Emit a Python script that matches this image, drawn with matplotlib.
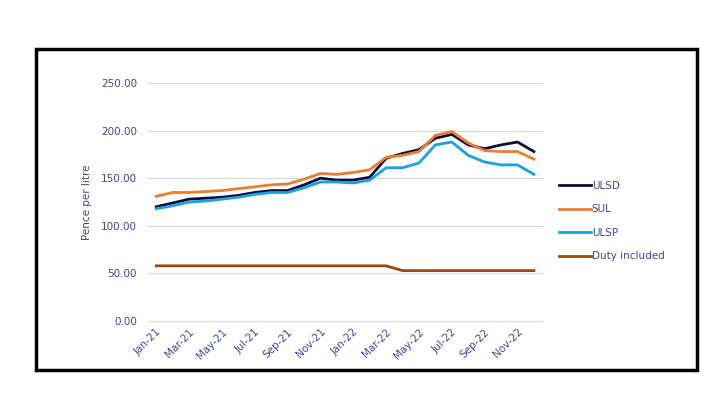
import numpy as np
import matplotlib.pyplot as plt
from matplotlib.patches import Rectangle

months = ["Jan-21", "Feb-21", "Mar-21", "Apr-21", "May-21", "Jun-21",
          "Jul-21", "Aug-21", "Sep-21", "Oct-21", "Nov-21", "Dec-21",
          "Jan-22", "Feb-22", "Mar-22", "Apr-22", "May-22", "Jun-22",
          "Jul-22", "Aug-22", "Sep-22", "Oct-22", "Nov-22", "Dec-22"]

ulsd = [120, 124, 128, 129, 130, 132, 135, 137, 137, 143, 150, 148,
        148, 151, 171, 176, 180, 192, 196, 185, 181, 185, 188, 178]
sul = [131, 135, 135, 136, 137, 139, 141, 143, 144, 149, 155, 154,
       156, 159, 172, 174, 178, 195, 199, 187, 179, 178, 178, 170]
ulsp = [118, 121, 125, 126, 128, 130, 133, 135, 135, 140, 146, 146,
        145, 148, 161, 161, 166, 185, 188, 174, 167, 164, 164, 154]
duty = [57.95] * 15 + [52.95] * 9

text_col = "#44449a"

fig = plt.figure(figsize=(7.05, 3.97), dpi=100)
fig.patches.append(Rectangle((36 / 705, 1 - 370 / 397), 661 / 705, 321 / 397,
                             transform=fig.transFigure, fill=False,
                             edgecolor="black", linewidth=2.5))

ax = fig.add_axes([0.21, 0.1914, 0.559, 0.5995])
x = np.arange(len(months))
ax.plot(x, ulsd, color="#0d0d3a", lw=2, label="ULSD")
ax.plot(x, sul, color="#ed7d31", lw=2, label="SUL")
ax.plot(x, ulsp, color="#1ba1e2", lw=2, label="ULSP")
ax.plot(x, duty, color="#9c4a0a", lw=2, label="Duty included")

ax.set_xlim(-0.5, len(months) - 0.5)
ax.set_ylim(0, 250)
ax.set_yticks(np.arange(0, 251, 50))
ax.set_yticklabels([f"{v:.2f}" for v in np.arange(0, 251, 50)])
ax.set_xticks(x[::2])
ax.set_xticklabels(months[::2], rotation=45, ha="right", rotation_mode="anchor")
ax.tick_params(colors=text_col, labelsize=7.5, length=0, pad=8)
ax.tick_params(axis="x", pad=4)
ax.grid(axis="y", color="#d9d9e6", lw=0.9)
for g in ax.get_ygridlines():
    g.set_clip_on(False)
ax.set_axisbelow(True)
for s in ax.spines.values():
    s.set_visible(False)
ax.set_ylabel("Pence per litre", color=text_col, fontsize=7.5, labelpad=6)

ax.legend(loc="center left", bbox_to_anchor=(1.02, 0.42), frameon=False,
          fontsize=7.5, labelcolor=text_col, handlelength=3.0,
          handletextpad=0.1, labelspacing=1.3)

fig.savefig("out.png", dpi=100)
